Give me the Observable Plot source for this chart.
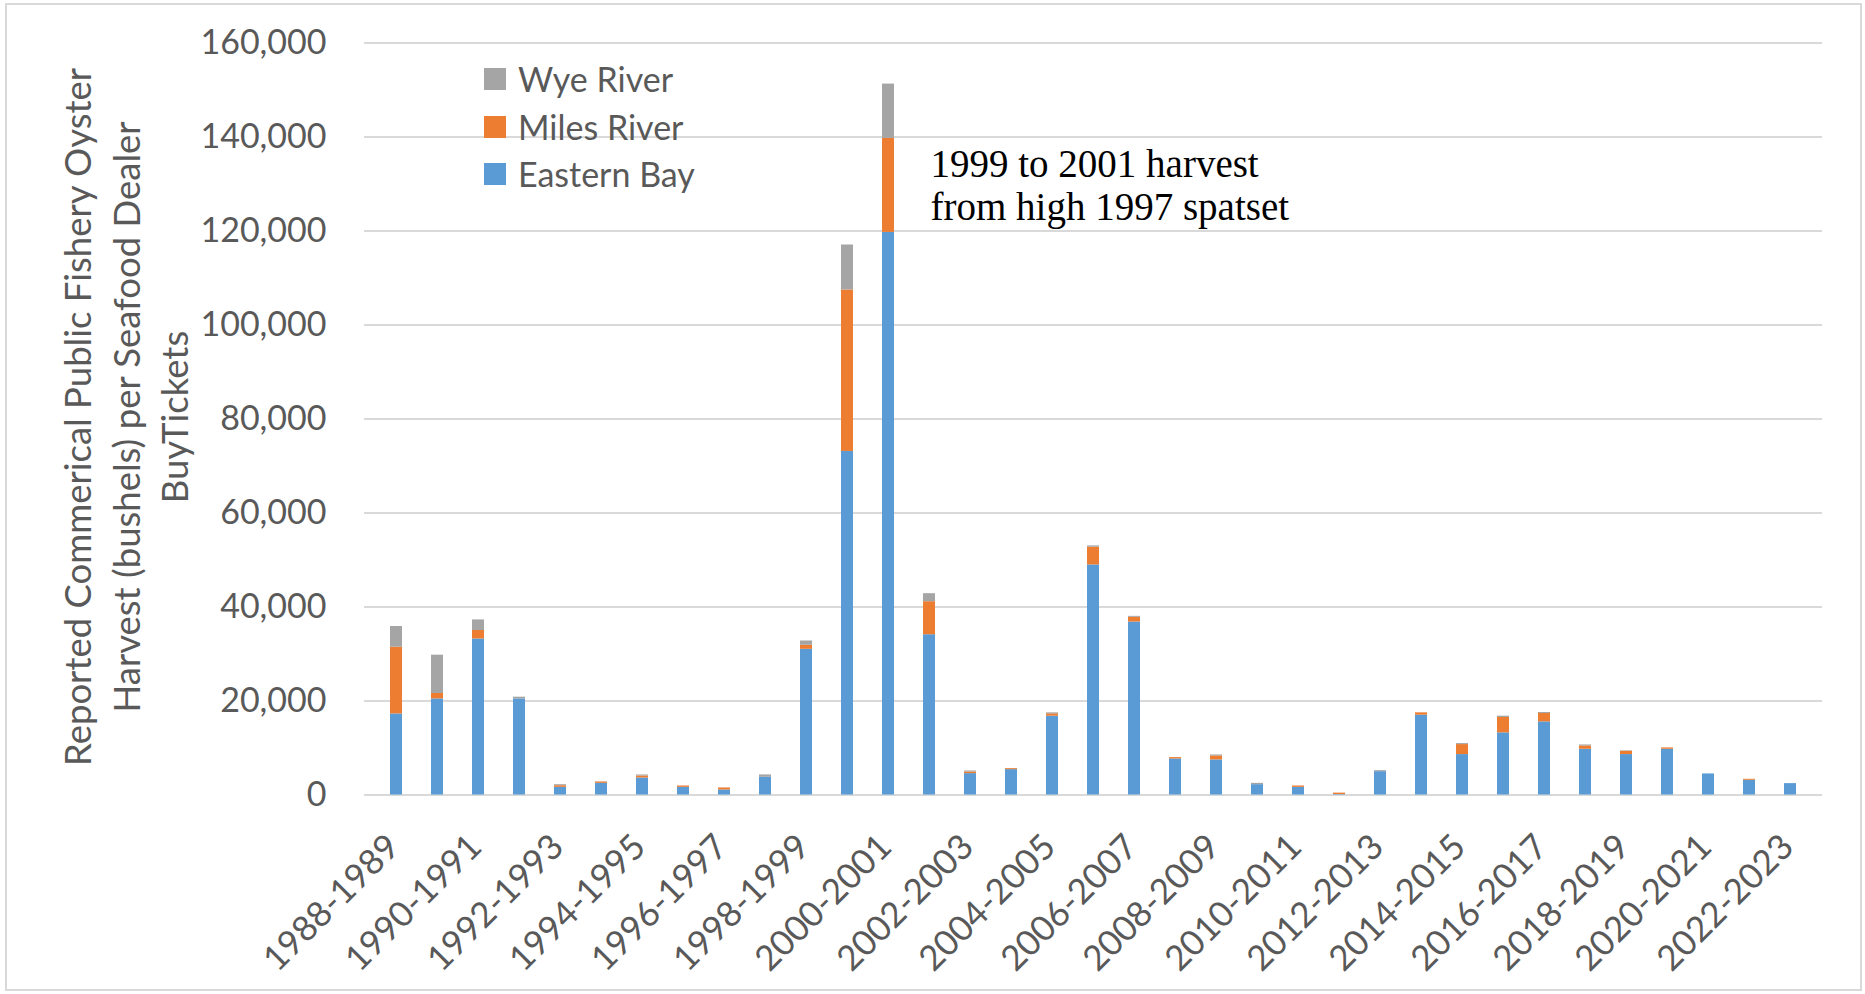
<!DOCTYPE html>
<html>
<head>
<meta charset="utf-8">
<script src="https://cdn.jsdelivr.net/npm/d3@7"></script>
<script src="https://cdn.jsdelivr.net/npm/@observablehq/plot@0.6"></script>
<style>
  body { margin: 0; background: #fff; }
  #wrap { position: relative; width: 1865px; height: 994px; overflow: hidden; font-family: Lato, sans-serif; background: #fff; }
  #frame { position: absolute; left: 5px; top: 3px; width: 1857px; height: 988px; box-sizing: border-box; border: 2px solid #d9d9d9; pointer-events: none; }
  #chart { position: absolute; left: 0; top: 0; }
  #legend { position: absolute; left: 484px; top: 68px; }
  .item { display: flex; align-items: center; height: 22px; margin-bottom: 25.5px; }
  .sw { width: 22px; height: 22px; margin-right: 12px; flex: none; }
  .lab { font-size: 34px; line-height: 22px; color: #595959; white-space: nowrap; }
</style>
</head>
<body>
<div id="wrap">
  <div id="frame"></div>
  <div id="chart"></div>
  <div id="legend"></div>
</div>
<script>
const seasons = [
  "1988-1989","1989-1990","1990-1991","1991-1992","1992-1993","1993-1994","1994-1995",
  "1995-1996","1996-1997","1997-1998","1998-1999","1999-2000","2000-2001","2001-2002",
  "2002-2003","2003-2004","2004-2005","2005-2006","2006-2007","2007-2008","2008-2009",
  "2009-2010","2010-2011","2011-2012","2012-2013","2013-2014","2014-2015","2015-2016",
  "2016-2017","2017-2018","2018-2019","2019-2020","2020-2021","2021-2022","2022-2023"
];
const easternBay = [
  17250, 20450, 33200, 20450, 1630, 2480, 3620,
  1630, 1070, 3770, 31000, 73100, 119700, 34100,
  4550, 5400, 16770, 48950, 36800, 7670, 7460,
  2200, 1630, 100, 4970, 16980, 8600, 13220,
  15560, 9730, 8600, 9730, 4480, 3130, 2420
];
const milesRiver = [
  14200, 1150, 1800, 0, 350, 290, 430,
  290, 430, 0, 850, 34350, 20000, 7030,
  350, 210, 500, 3770, 1000, 290, 850,
  0, 290, 300, 0, 500, 2130, 3270,
  1780, 710, 710, 290, 0, 210, 0
];
const wyeRiver = [
  4400, 8150, 2250, 360, 210, 50, 210,
  0, 0, 500, 920, 9570, 11560, 1700,
  210, 0, 210, 280, 210, 0, 210,
  280, 0, 0, 210, 0, 210, 280,
  210, 210, 100, 0, 0, 0, 0
];
const seriesNames = ["Eastern Bay", "Miles River", "Wye River"];
const seriesColors = ["#5B9BD5", "#ED7D31", "#A5A5A5"];
const legendOrder = ["Wye River", "Miles River", "Eastern Bay"];
const yTicks = [0, 20000, 40000, 60000, 80000, 100000, 120000, 140000, 160000];
const xTickLabels = seasons.filter((d, i) => i % 2 === 0);
const yTitle = "Reported Commerical Public Fishery Oyster\nHarvest (bushels) per Seafood Dealer\nBuyTickets";
const noteText = "1999 to 2001 harvest\nfrom high 1997 spatset";
const noteSeason = "2000-2001";
const noteValue = 138000;

const seriesValues = {"Eastern Bay": easternBay, "Miles River": milesRiver, "Wye River": wyeRiver};
const rows = [];
seasons.forEach((s, i) => {
  seriesNames.forEach(name => rows.push({season: s, series: name, value: seriesValues[name][i]}));
});

const chart = Plot.plot({
  width: 1865,
  height: 994,
  marginLeft: 364,
  marginRight: 43,
  marginTop: 42.5,
  marginBottom: 199.5,
  style: {fontFamily: "Lato, sans-serif", fontSize: "34px", color: "#595959", background: "transparent", overflow: "visible"},
  x: {domain: seasons, paddingInner: 0.71, paddingOuter: 0.355, axis: null},
  y: {domain: [0, 160000], axis: null},
  color: {domain: seriesNames, range: seriesColors},
  marks: [
    Plot.ruleY(yTicks, {stroke: "#d9d9d9", strokeWidth: 2}),
    Plot.barY(rows, {x: "season", y: "value", fill: "series", order: seriesNames}),
    Plot.axisY(yTicks, {tickSize: 0, tickPadding: 38, tickFormat: d3.format(","), fontSize: 34, label: null}),
    Plot.axisX(xTickLabels, {tickSize: 0, tickRotate: -45, tickPadding: 54, textAnchor: "end", lineAnchor: "bottom", dx: 5, fontSize: 35, label: null}),
    Plot.text([yTitle], {text: d => d, frameAnchor: "left", rotate: -90, textAnchor: "middle", lineAnchor: "top", dx: -308, dy: -2, lineHeight: 1.33, fontSize: 36.5, fill: "#595959"}),
    Plot.text([{season: noteSeason, value: noteValue, text: noteText}], {x: "season", y: "value", text: "text", textAnchor: "start", lineAnchor: "top", dx: 42, lineHeight: 1.1, fontSize: 39, fontFamily: "Liberation Serif", fill: "#000"})
  ]
});
document.getElementById("chart").appendChild(chart);

const legend = document.getElementById("legend");
legendOrder.forEach(name => {
  const item = document.createElement("div");
  item.className = "item";
  const sw = document.createElement("div");
  sw.className = "sw";
  sw.style.background = seriesColors[seriesNames.indexOf(name)];
  const lab = document.createElement("div");
  lab.className = "lab";
  lab.textContent = name;
  item.appendChild(sw);
  item.appendChild(lab);
  legend.appendChild(item);
});
</script>
</body>
</html>
